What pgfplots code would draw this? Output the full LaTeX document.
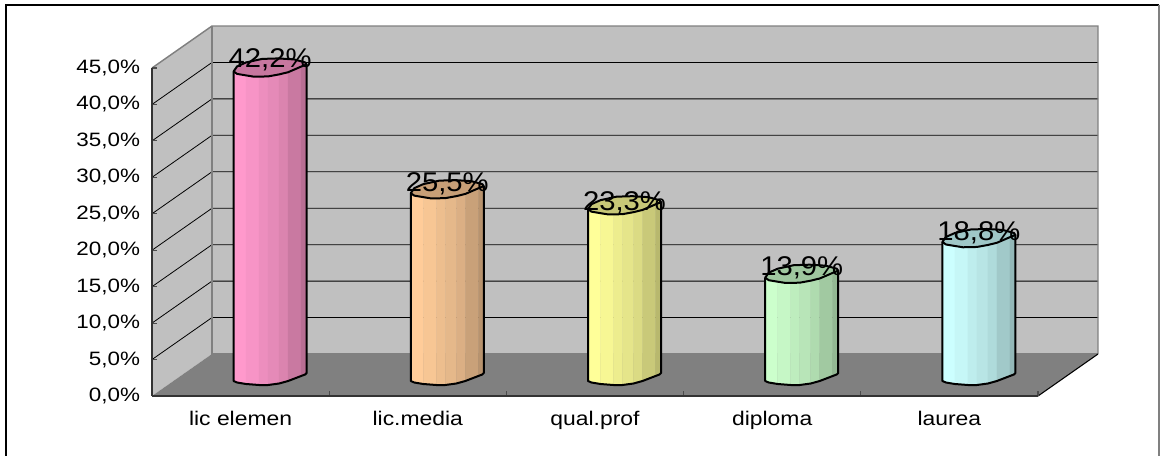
\documentclass[border=0pt]{standalone}
\usepackage{fontspec}
\usepackage{pgfplots}
\pgfplotsset{compat=1.18}
\setmainfont{Liberation Sans}
\newfontfamily\tickf[FakeStretch=1.16]{Liberation Sans}
\newfontfamily\valf[FakeStretch=1.08]{Liberation Sans}
\definecolor{cpink}{HTML}{FF99CC}
\definecolor{cpeach}{HTML}{FFCC99}
\definecolor{cyell}{HTML}{FFFF99}
\definecolor{cgreen}{HTML}{CCFFCC}
\definecolor{ccyan}{HTML}{CCFFFF}
\definecolor{wall}{HTML}{C0C0C0}
\definecolor{flr}{HTML}{808080}
% one pixel of the reference = 1/177.2 x-unit = 1/7.289 y-unit
\newcommand{\poly}[2]{%
  \gdef\coords{}%
  \foreach \dx/\dy/\h in {#2}{%
    \pgfmathsetmacro\ax{\cat+0.5+(29.5+\dx)/177.2}%
    \pgfmathsetmacro\ay{2.88+\h*\val+\dy/7.289}%
    \xdef\coords{\coords (\ax,\ay)}%
  }%
  \edef\temp{\noexpand\addplot[forget plot,#1] coordinates {\coords} -- cycle;}\temp
}
\newcommand{\strip}[7]{\poly{fill=\col!#1!black,draw=\col!#1!black,line width=0.2pt}{#2/#4/0,#2/#3/1,#5/#6/1,#5/#7/0}}
\newcommand{\cyl}[3]{%
  \def\cat{#1}\def\val{#2}\def\col{#3}%
  \strip{100}{-36.5}{-4}{-6}{-24}{-8}{-9}%
  \strip{97}{-24}{-8}{-9}{-11}{-9.3}{-10}%
  \strip{93}{-11}{-9.3}{-10}{-2}{-9}{-10}%
  \strip{90}{-2}{-9}{-10}{9}{-7}{-8.5}%
  \strip{86}{9}{-7}{-8.5}{18}{-4.8}{-6}%
  \strip{79}{18}{-4.8}{-6}{31}{0.8}{-1}%
  \strip{72}{31}{0.8}{-1}{36.5}{3}{2}%
  % top face
  \poly{fill=\col!78!black,draw=black,line width=1.5pt,line join=round}{%
    -36.5/-4/1,-33/-6.5/1,-24/-8/1,-16/-9.3/1,-2/-9/1,9/-7/1,18/-4.8/1,31/0.8/1,36.5/3/1,%
    35/5/1,24/8/1,8/9/1,-8/8.5/1,-24/5/1,-33/1/1}%
  % outline of the body
  \gdef\coords{}%
  \foreach \dx/\dy/\h in {-36.5/-4/1,-36.5/-6/0,-33/-7.5/0,-24/-9/0,-11/-10/0,-2/-10/0,9/-8.5/0,18/-6/0,31/-1/0,35/0.5/0,36.5/2/0,36.5/3/1}{%
    \pgfmathsetmacro\ax{\cat+0.5+(29.5+\dx)/177.2}%
    \pgfmathsetmacro\ay{2.88+\h*\val+\dy/7.289}%
    \xdef\coords{\coords (\ax,\ay)}%
  }%
  \edef\temp{\noexpand\addplot[forget plot,draw=black,line width=1.5pt,line join=round] coordinates {\coords};}\temp
}
\begin{document}
\begin{tikzpicture}
\path[use as bounding box] (-114pt,-45pt) rectangle (756pt,297pt);
\draw[black,line width=1.5pt] (-109.5pt,-45pt) -- (-109.5pt,293.3pt) -- (755pt,293.3pt);
\draw[flr,line width=1.5pt] (755pt,293.3pt) -- (755pt,-45pt);
\begin{axis}[
  scale only axis, width=664.5pt, height=246pt,
  xmin=0, xmax=5, ymin=0, ymax=45,
  clip=false, axis on top,
  axis x line*=bottom, axis y line*=left,
  axis line style={black!80,line width=0.9pt},
  tick style={black!70,line width=0.8pt},
  major tick length=3.8pt,
  xtick={0,1,2,3,4,5}, xticklabels={},
  ytick={0,5,10,15,20,25,30,35,40,45},
  yticklabels={{0,0\%},{5,0\%},{10,0\%},{15,0\%},{20,0\%},{25,0\%},{30,0\%},{35,0\%},{40,0\%},{45,0\%}},
  yticklabel style={font=\tickf\fontsize{14.5}{14.5}\selectfont,inner sep=0pt,xshift=-8.75pt},
  y tick label style={/pgf/number format/assume math mode=true},
  extra x ticks={0.5,1.5,2.5,3.5,4.5},
  extra x tick labels={lic elemen,lic.media,qual.prof,diploma,laurea},
  extra x tick style={major tick length=0pt,
    xticklabel style={font=\tickf\fontsize{14.8}{14.8}\selectfont,anchor=base,yshift=-22.5pt,inner sep=0pt}},
]
% walls and floor
\addplot[forget plot,fill=wall,draw=none] coordinates {(0.3386,5.762)(5.3386,5.762)(5.3386,50.762)(0.3386,50.762)} -- cycle;
\addplot[forget plot,fill=wall,draw=none] coordinates {(0,0)(0.3386,5.762)(0.3386,50.762)(0,45)} -- cycle;
\addplot[forget plot,fill=flr,draw=none] coordinates {(0,0)(5,0)(5.3386,5.762)(0.3386,5.762)} -- cycle;
% gridlines
\addplot[forget plot,black,line width=0.6pt] coordinates {(0,5)(0.3386,10.762)(5.3386,10.762)};
\addplot[forget plot,black,line width=0.6pt] coordinates {(0,10)(0.3386,15.762)(5.3386,15.762)};
\addplot[forget plot,black,line width=0.6pt] coordinates {(0,15)(0.3386,20.762)(5.3386,20.762)};
\addplot[forget plot,black,line width=0.6pt] coordinates {(0,20)(0.3386,25.762)(5.3386,25.762)};
\addplot[forget plot,black,line width=0.6pt] coordinates {(0,25)(0.3386,30.762)(5.3386,30.762)};
\addplot[forget plot,black,line width=0.6pt] coordinates {(0,30)(0.3386,35.762)(5.3386,35.762)};
\addplot[forget plot,black,line width=0.6pt] coordinates {(0,35)(0.3386,40.762)(5.3386,40.762)};
\addplot[forget plot,black,line width=0.6pt] coordinates {(0,40)(0.3386,45.762)(5.3386,45.762)};
% wall outlines
\addplot[forget plot,flr,line width=1.1pt] coordinates {(0,45)(0.3386,50.762)(5.3386,50.762)(5.3386,5.762)};
\addplot[forget plot,flr,line width=1.1pt] coordinates {(0.3386,50.762)(0.3386,5.762)(5.3386,5.762)};
\addplot[forget plot,black,line width=0.8pt] coordinates {(5,0)(5.3386,5.762)};
% cylinders
\cyl{0}{42.2}{cpink}
\cyl{1}{25.5}{cpeach}
\cyl{2}{23.3}{cyell}
\cyl{3}{13.9}{cgreen}
\cyl{4}{18.8}{ccyan}
% value labels
\addplot[forget plot,draw=none,mark=none,point meta=explicit symbolic,
  nodes near coords,
  every node near coord/.style={anchor=base,inner sep=0pt,text=black,
    font=\valf\fontsize{20.3}{20.3}\selectfont}]
  coordinates {(0.6665,45.1)[42,2\%] (1.6665,28.0)[25,5\%] (2.6665,25.4)[23,3\%] (3.6665,16.5)[13,9\%] (4.6665,21.3)[18,8\%]};
\end{axis}
\end{tikzpicture}
\end{document}
